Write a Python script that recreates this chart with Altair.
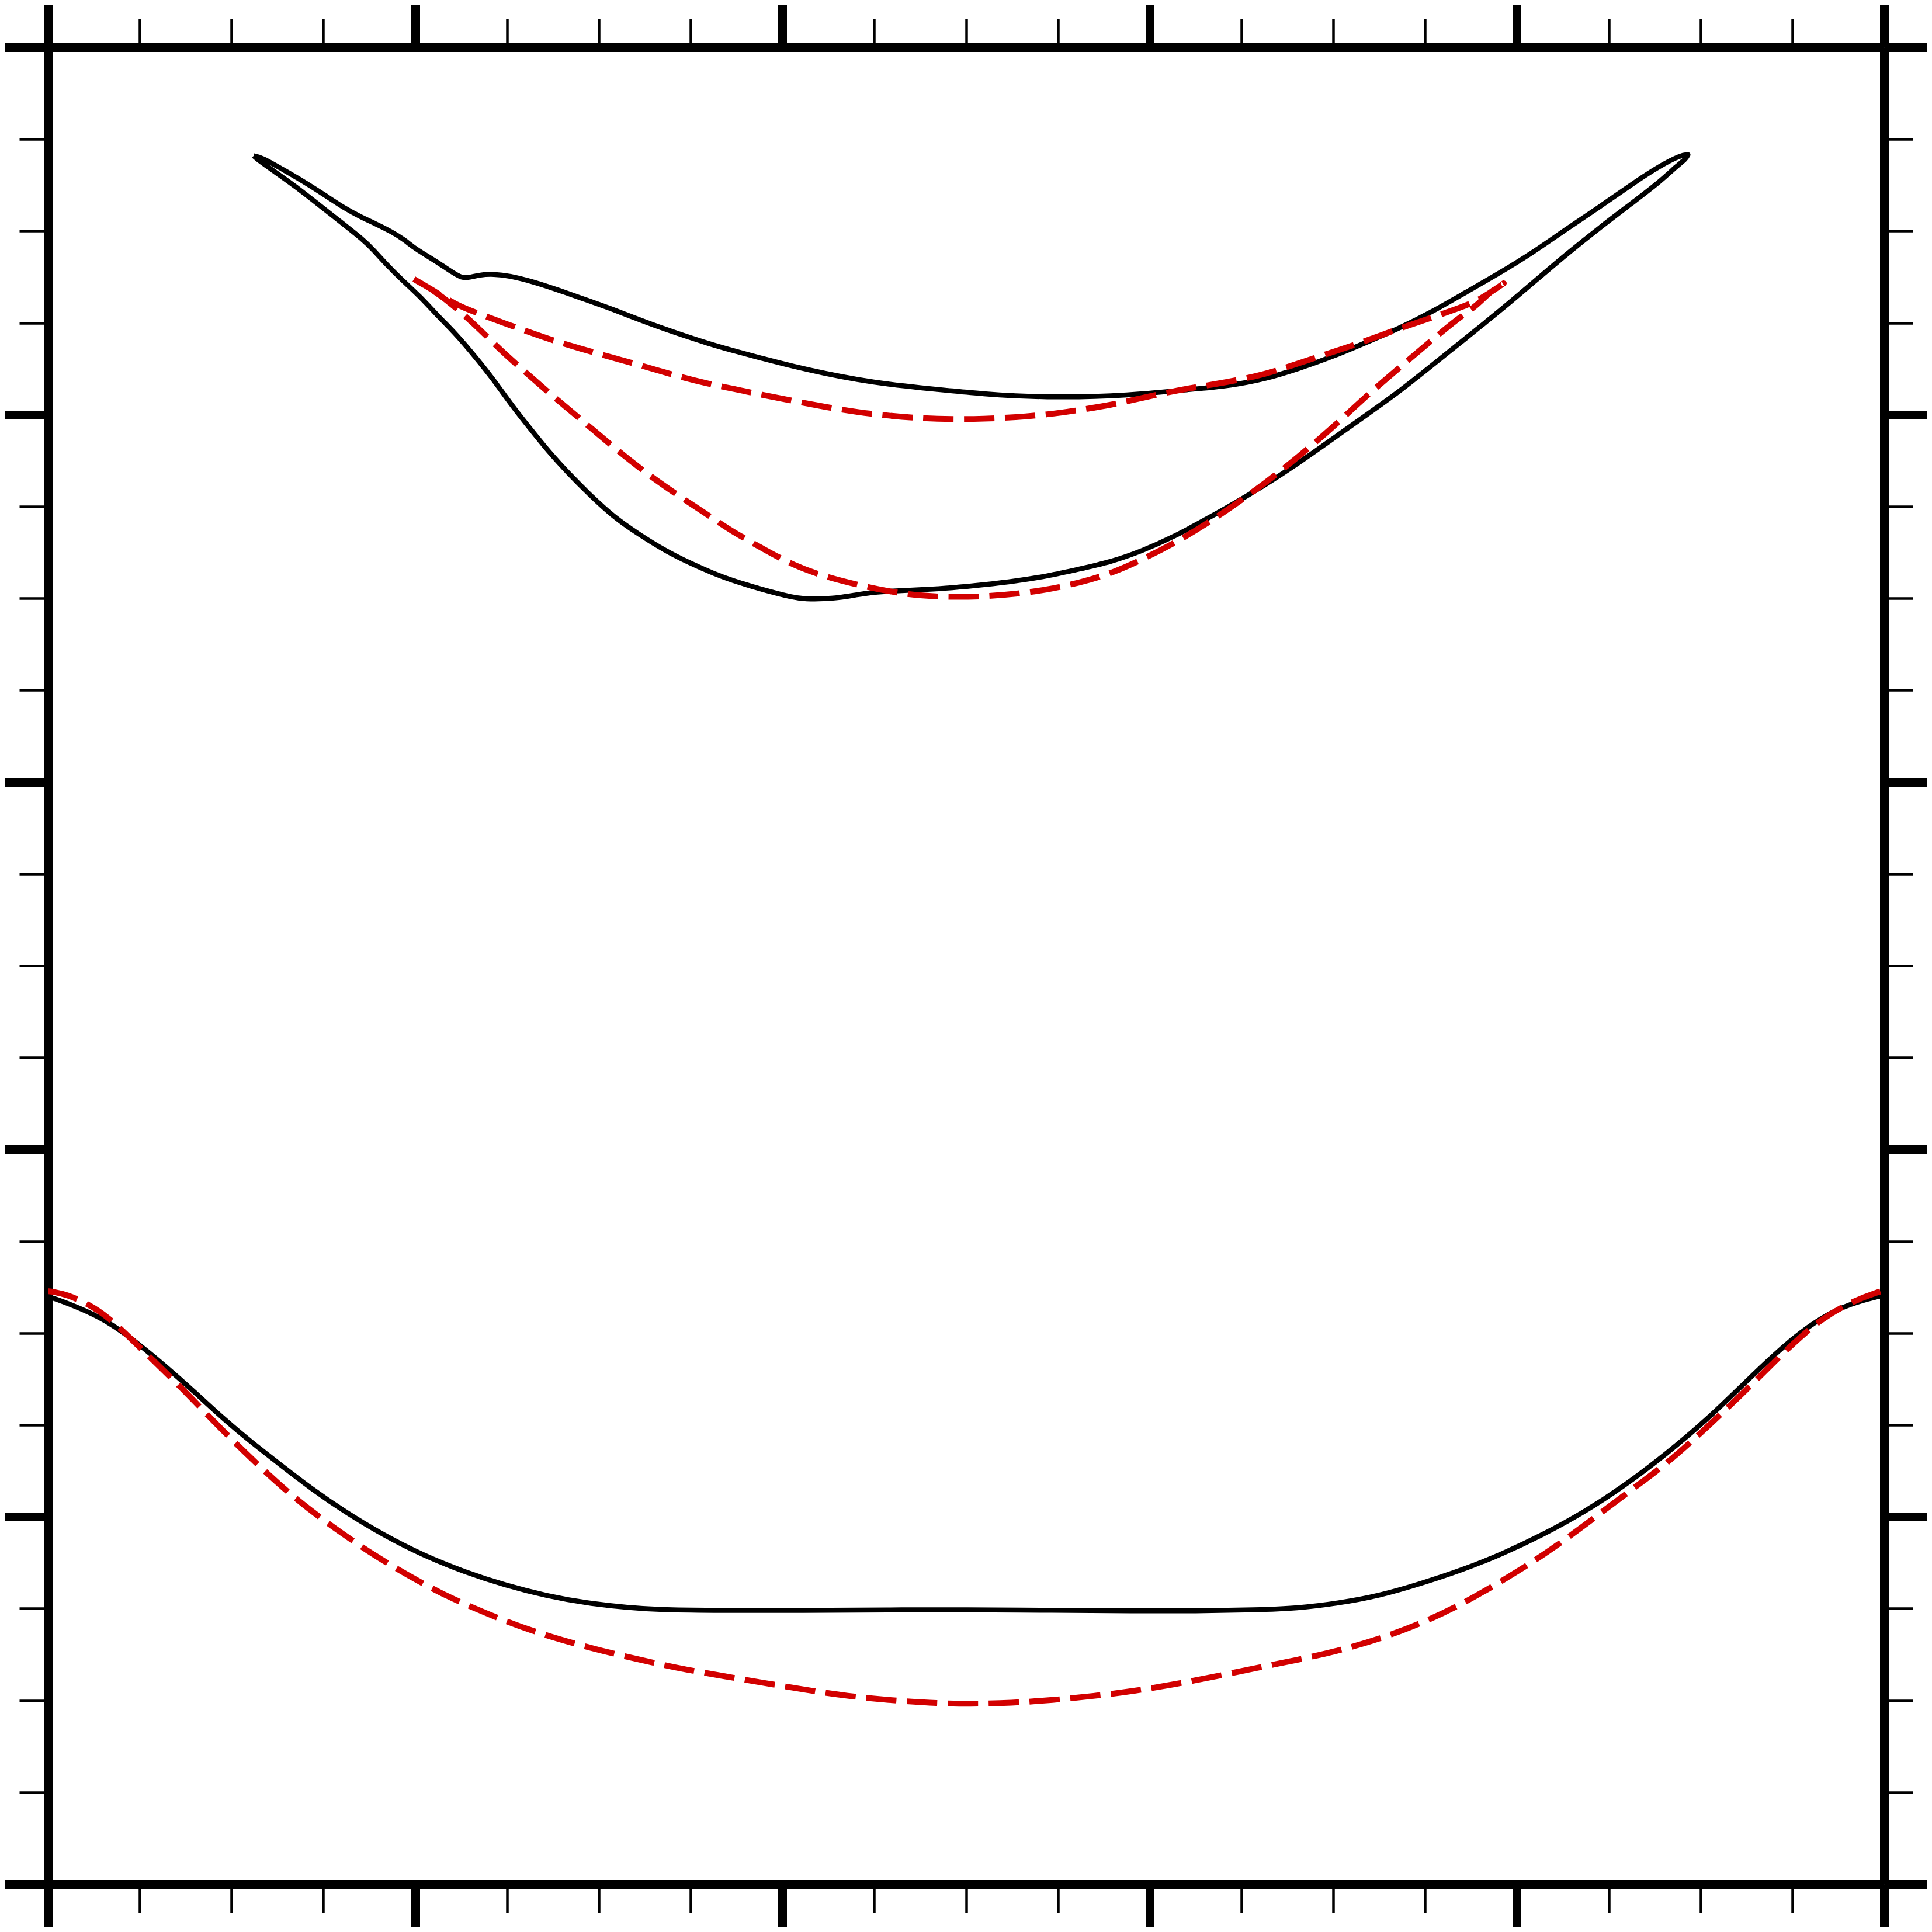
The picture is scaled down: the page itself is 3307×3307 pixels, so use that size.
import altair as alt
import pandas as pd

# Curves, in plot units (frame spans 0..1490 on both axes, y upward)
top_solid_upper = [
    (167, 1402), (167, 1402), (173.8, 1400.6), (189.2, 1391.7), (207.2, 1381.4), (225.2, 1369.8),
    (240.6, 1359.5), (253.5, 1352.6), (266.3, 1346.7), (279.2, 1340.3), (289.4, 1333.8),
    (297.1, 1327.4), (307.4, 1321), (317.7, 1314.6), (328, 1307.6), (335.7, 1303),
    (340.9, 1303), (351.1, 1305.6), (361.4, 1306.1), (374.2, 1304.8), (394.8, 1299.6),
    (415.4, 1292.7), (433.4, 1286.3), (459.1, 1277.3), (484.8, 1267), (510.5, 1258),
    (536.2, 1249.6), (554, 1244.5), (579.7, 1237.6), (605.4, 1231), (631.1, 1225.3),
    (656.8, 1220.4), (682.5, 1216.6), (708.2, 1213.8), (733.9, 1211.3), (759.6, 1208.8),
    (785.3, 1207.2), (811, 1206.4), (836.7, 1206.4), (862.4, 1207.2), (888.1, 1208.8),
    (913.8, 1211.3), (933, 1213), (960.2, 1215.7), (987.4, 1220.8), (1014.7, 1229.2),
    (1041.9, 1238.8), (1069.1, 1250.3), (1096.3, 1261.9), (1123.5, 1275.5), (1150.8, 1291.4),
    (1178, 1306.9), (1205.2, 1323.6), (1232.4, 1342.8), (1259.6, 1360.8), (1286.9, 1380.1),
    (1308.6, 1394.2), (1325, 1402.5), (1331, 1403), (1331, 1403),
]
top_solid_lower = [
    (1329.1, 1399.4), (1322.3, 1394.2), (1308.6, 1381.4), (1286.9, 1364.7), (1259.6, 1344.1),
    (1232.4, 1322.3), (1205.2, 1299.1), (1178, 1276), (1150.8, 1254.2), (1123.5, 1232.3),
    (1096.3, 1210.5), (1069.1, 1191.2), (1041.9, 1171.9), (1014.7, 1152.6), (987.4, 1134.7),
    (960.2, 1118.5), (939.5, 1107), (913.8, 1093), (888.1, 1081.5), (862.4, 1072.5),
    (836.7, 1066.7), (811, 1061), (785.3, 1057), (759.6, 1054), (733.9, 1051.5),
    (708.2, 1050), (687.6, 1049), (669.7, 1048), (656.8, 1046), (636.2, 1042.5),
    (613.1, 1042.5), (605.4, 1043.5), (579.7, 1050), (554, 1058), (541.3, 1062.7),
    (520.7, 1071.7), (500.2, 1082), (479.6, 1094.9), (459, 1109), (438.5, 1128.2),
    (423.1, 1143.7), (407.7, 1160.4), (392.2, 1179.6), (376.8, 1198.9), (361.4, 1220.8),
    (346, 1240), (330.6, 1258), (315.1, 1273.5), (302.3, 1287.6), (286.9, 1301.7),
    (274, 1314.6), (263.7, 1326.1), (256, 1333.8), (238, 1348), (220.1, 1362.1),
    (202.1, 1376.3), (184.1, 1389.1), (171.2, 1398.1), (167, 1402), (167, 1402),
]
top_dashed_upper = [
    (297, 1302), (297, 1302), (311, 1294), (330.6, 1281.2), (351.1, 1273.4), (371.7, 1265.7),
    (389.7, 1259.3), (407.7, 1252.9), (433.4, 1245.2), (459.1, 1238), (484.8, 1231),
    (510.5, 1223.3), (536.2, 1216.9), (556.6, 1213), (579.7, 1208), (605.4, 1203.1),
    (631.1, 1198.2), (656.8, 1194), (682.5, 1191.1), (708.2, 1189.1), (733.9, 1188.3),
    (759.6, 1188.6), (785.3, 1189.9), (811, 1192.1), (836.7, 1195.7), (862.4, 1199.8),
    (888.1, 1205.6), (913.8, 1211.3), (936, 1215), (960.2, 1219), (987.4, 1224.6),
    (1014.7, 1233.6), (1041.9, 1242.6), (1069.1, 1251.6), (1096.3, 1261.9), (1123.5, 1270.9),
    (1145.3, 1278.6), (1161, 1284.5), (1182, 1299), (1182, 1299),
]
top_dashed_lower = [
    (1169.8, 1291.4), (1158.9, 1279.9), (1145.3, 1270.9), (1123.5, 1252.9), (1096.3, 1229.8),
    (1069.1, 1206.6), (1041.9, 1180.9), (1014.7, 1157.8), (987.4, 1136), (960.2, 1117),
    (939.5, 1103), (913.8, 1087.5), (888.1, 1074.5), (862.4, 1063), (836.7, 1055.5),
    (811, 1050), (785.3, 1046.5), (759.6, 1044.5), (733.9, 1044), (708.2, 1045),
    (682.5, 1048.5), (656.8, 1054), (631.1, 1060.5), (605.4, 1069.5), (579.7, 1083.5),
    (554, 1098), (536.2, 1110.3), (510.5, 1127), (484.8, 1145), (459.1, 1165.5),
    (433.4, 1187.4), (410.2, 1206.6), (389.7, 1224.6), (369.1, 1242.6), (351.1, 1260.6),
    (334.4, 1276), (316, 1291), (297, 1302), (297, 1302),
]
bottom_solid = [
    (0, 476.5), (3.9, 475.7), (32.2, 464.8), (52.2, 454), (72.1, 439.4), (95.4, 420.1),
    (118.7, 399.5), (142, 377.8), (165.2, 358.4), (188.5, 340.3), (215.1, 319.7),
    (241.7, 301.6), (271.7, 283.4), (304.9, 266.5), (338.2, 253.2), (371.4, 242.3),
    (404.7, 233.8), (438, 227.8), (471.2, 224.2), (497.8, 222.5), (532.5, 222),
    (615.6, 222), (681, 222.5), (745, 222.5), (815.2, 222.2), (881.7, 221.5),
    (931.6, 221.5), (980.4, 222.5), (1013.7, 223.7), (1046.9, 227.8), (1080.2, 233.8),
    (1113.4, 243.5), (1146.7, 254.4), (1180, 267.7), (1213.2, 283.4), (1246.5, 301.6),
    (1279.7, 323.3), (1313, 348.7), (1346.3, 376.6), (1379.5, 409.2), (1412.8, 440.7),
    (1439.4, 460), (1462.7, 470.9), (1485.9, 476.9), (1490, 477.5),
]
bottom_dashed = [
    (0, 481), (3.9, 480.6), (15.6, 478.1), (32.2, 470.9), (48.8, 460), (65.5, 444.3),
    (85.4, 424.9), (105.4, 405.6), (125.3, 385), (145.3, 364.5), (165.2, 345.1),
    (188.5, 323.3), (211.8, 304), (238.4, 284.6), (265, 266.5), (291.6, 250.8),
    (318.2, 236.2), (344.8, 224.2), (371.4, 213.3), (398.1, 203.6), (431.3, 193.9),
    (464.6, 185.5), (497.8, 178.2), (515.9, 174.3), (549.1, 168.6), (582.4, 163),
    (615.6, 157.4), (648.9, 152.5), (682.2, 149.3), (715.4, 146.9), (748.7, 146.1),
    (781.9, 146.9), (815.2, 149.3), (848.5, 152.5), (881.7, 156.6), (915, 162.2),
    (948.2, 168.6), (981.5, 175.5), (1013.7, 181.8), (1046.9, 189.1), (1080.2, 198.8),
    (1113.4, 210.9), (1146.7, 226.6), (1180, 245.9), (1213.2, 266.5), (1246.5, 290.7),
    (1279.7, 316.1), (1313, 340.3), (1346.3, 370.5), (1379.5, 402), (1412.8, 435.8),
    (1439.4, 458.8), (1462.7, 472.1), (1485.9, 480.6), (1490, 481.5),
]

major_ticks = [0, 298, 596, 894, 1192, 1490]
minor_ticks = [74.5, 149, 223.5, 372.5, 447, 521.5, 670.5, 745, 819.5,
               968.5, 1043, 1117.5, 1266.5, 1341, 1415.5]
DOMAIN = [0, 1490]
RED = "#d20000"


def table(points):
    return pd.DataFrame({"x": [p[0] for p in points],
                         "y": [p[1] for p in points],
                         "i": list(range(len(points)))})


def make_axis(orient, values, major):
    if major:
        return alt.Axis(orient=orient, values=values, tickSize=74, tickWidth=15,
                        tickColor="black", labels=False, grid=False, title=None,
                        domain=True, domainWidth=15, domainColor="black")
    return alt.Axis(orient=orient, values=values, tickSize=49, tickWidth=4.5,
                    tickColor="black", labels=False, grid=False, title=None,
                    domain=False)


def curve(points, color, width, dash, xaxis, yaxis):
    mark_kwargs = dict(color=color, strokeWidth=width, interpolate="basis",
                       strokeJoin="miter", strokeCap="butt", clip=True)
    if dash:
        mark_kwargs["strokeDash"] = dash
    return alt.Chart(table(points)).mark_line(**mark_kwargs).encode(
        x=alt.X("x:Q", scale=alt.Scale(domain=DOMAIN, nice=False, zero=False), axis=xaxis),
        y=alt.Y("y:Q", scale=alt.Scale(domain=DOMAIN, nice=False, zero=False), axis=yaxis),
        order="i:Q",
    )


top_solid = top_solid_upper + top_solid_lower
top_dashed = top_dashed_upper + top_dashed_lower

layers = [
    curve(top_solid, "black", 8.5, None,
          make_axis("bottom", major_ticks, True), make_axis("left", major_ticks, True)),
    curve(bottom_solid, "black", 8.5, None,
          make_axis("top", major_ticks, True), make_axis("right", major_ticks, True)),
    curve(top_dashed, RED, 10, [52, 18],
          make_axis("bottom", minor_ticks, False), make_axis("left", minor_ticks, False)),
    curve(bottom_dashed, RED, 10, [52, 18],
          make_axis("top", minor_ticks, False), make_axis("right", minor_ticks, False)),
]

chart = alt.layer(*layers).resolve_scale(
    x="independent", y="independent"
).properties(
    width=3143,
    height=3144,
    autosize=alt.AutoSizeParams(type="none"),
    padding={"left": 74, "top": 73, "right": 74, "bottom": 74},
    background="white",
).configure_view(stroke=None)

chart.save("out.html", embed_options={"renderer": "svg", "actions": False})
